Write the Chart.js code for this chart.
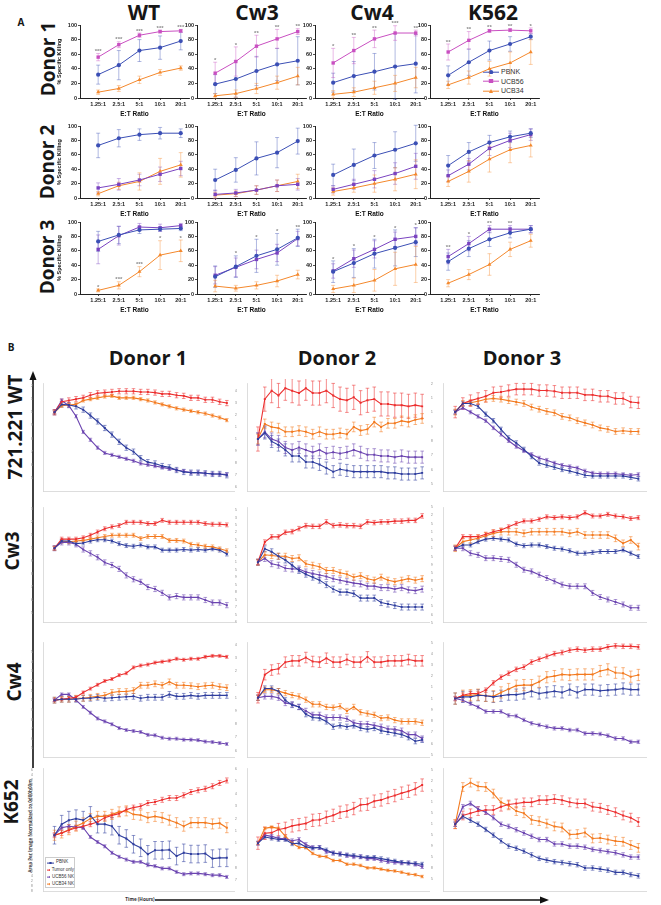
<!DOCTYPE html>
<html>
<head>
<meta charset="utf-8">
<script src="https://cdn.jsdelivr.net/npm/chart.js@4.4.0/dist/chart.umd.min.js"></script>
<style>
body{margin:0;background:#fff;width:661px;height:905px;position:relative;overflow:hidden;font-family:'Open Sans',sans-serif}
canvas.c{position:absolute}
.t{position:absolute;font-weight:700;color:#161616;white-space:nowrap;line-height:1}
.ctr{transform:translate(-50%,-50%)}
.rot{transform:translate(-50%,-50%) rotate(-90deg)}
.lg{position:absolute;font-family:'Liberation Sans',Arial,sans-serif;color:#333;white-space:nowrap;line-height:1}
.lg div{display:flex;align-items:center}
</style>
</head>
<body>

<div class="t ctr" style="left:21px;top:22px;font-size:10px">A</div>
<div class="t ctr" style="left:144px;top:12px;font-size:21px">WT</div>
<div class="t ctr" style="left:257px;top:12px;font-size:21px">Cw3</div>
<div class="t ctr" style="left:372px;top:12px;font-size:21px">Cw4</div>
<div class="t ctr" style="left:493px;top:12px;font-size:21px">K562</div>
<div class="t rot" style="left:48px;top:59px;font-size:19px">Donor 1</div>
<div class="t rot" style="left:47px;top:162px;font-size:19px">Donor 2</div>
<div class="t rot" style="left:47px;top:257px;font-size:19px">Donor 3</div>

<div class="t ctr" style="left:11px;top:347px;font-size:10px">B</div>
<div class="t ctr" style="left:148px;top:358px;font-size:20px">Donor 1</div>
<div class="t ctr" style="left:337px;top:358px;font-size:20px">Donor 2</div>
<div class="t ctr" style="left:522px;top:358px;font-size:20px">Donor 3</div>
<div class="t rot" style="left:15px;top:427px;font-size:19px">721.221 WT</div>
<div class="t rot" style="left:12px;top:551px;font-size:19px">Cw3</div>
<div class="t rot" style="left:14px;top:682px;font-size:19px">Cw4</div>
<div class="t rot" style="left:11px;top:802px;font-size:19px">K652</div>
<div class="t rot" style="left:30px;top:826px;font-size:4.6px;color:#444">Area Per Image Normalized to 0d00h00m</div>
<div class="t ctr" style="left:140px;top:899px;font-size:4.6px;color:#333">Time (Hours)</div>

<svg style="position:absolute;left:0;top:0" width="661" height="905">
  <line x1="33" y1="768" x2="33" y2="378" stroke="#111" stroke-width="1.6"/>
  <polygon points="33,371 29.5,380 36.5,380" fill="#111"/>
  <line x1="155" y1="900" x2="542" y2="900" stroke="#111" stroke-width="1.6"/>
  <polygon points="549,900 540,896.5 540,903.5" fill="#111"/>
</svg>

<div class="lg" id="legA" style="left:483px;top:67px;font-size:7px"></div>
<div class="lg" id="legB" style="left:45px;top:857px;width:30px;height:31px;border:0.6px solid #ccc;font-size:4.5px;padding-top:1px;box-sizing:border-box"></div>

<script>
// ---------- panel A : % specific killing ----------
const ratios = ['1.25:1', '2.5:1', '5:1', '10:1', '20:1'];
const ratioPos = [0, 1, 2, 3, 4];
const killTicks = [0, 20, 40, 60, 80, 100];
const seriesA = ['PBNK', 'UCB56', 'UCB34'];

// rows = PBNK, UCB56, UCB34
const killWT1 = [[32, 45, 65, 69, 78], [56, 73, 86, 91, 92], [8, 13, 25, 35, 41]];
const sdWT1 = [[13, 20, 15, 16, 12], [5, 4, 3, 2, 2], [3, 4, 5, 4, 3]];
const starsWT1 = ['***', '***', '***', '***', '***'];
const killCw3_1 = [[19, 26, 37, 46, 51], [34, 50, 71, 81, 91], [3, 6, 13, 21, 30]];
const sdCw3_1 = [[13, 25, 20, 22, 33], [15, 20, 15, 13, 4], [3, 5, 7, 9, 12]];
const starsCw3_1 = ['*', '*', '**', '**', '**'];
const killCw4_1 = [[21, 30, 36, 43, 47], [48, 65, 81, 89, 89], [5, 8, 14, 20, 28]];
const sdCw4_1 = [[13, 20, 25, 45, 40], [20, 18, 12, 10, 4], [5, 6, 9, 11, 14]];
const starsCw4_1 = ['*', '**', '**', '***', '**'];
const killK562_1 = [[31, 49, 65, 74, 84], [63, 79, 92, 93, 92], [18, 28, 40, 48, 63]];
const sdK562_1 = [[13, 18, 13, 10, 4], [11, 12, 2, 2, 4], [5, 9, 10, 15, 17]];
const starsK562_1 = ['**', '**', '**', '**', '*'];

const killWT2 = [[73, 83, 88, 90, 90], [14, 19, 25, 33, 41], [6, 17, 23, 37, 46]];
const sdWT2 = [[17, 12, 8, 8, 6], [7, 8, 8, 10, 10], [3, 5, 12, 18, 17]];
const killCw3_2 = [[25, 39, 55, 63, 79], [5, 7, 11, 17, 19], [4, 6, 11, 17, 23]];
const sdCw3_2 = [[15, 17, 23, 21, 18], [6, 5, 6, 8, 8], [4, 4, 6, 8, 10]];
const killCw4_2 = [[32, 46, 59, 67, 76], [12, 19, 26, 34, 44], [9, 14, 20, 26, 33]];
const sdCw4_2 = [[15, 22, 18, 25, 25], [5, 7, 12, 15, 18], [5, 6, 12, 16, 20]];
const killK562_2 = [[45, 64, 77, 85, 90], [31, 47, 69, 80, 88], [23, 37, 54, 67, 73]];
const sdK562_2 = [[14, 13, 10, 8, 6], [8, 8, 10, 10, 8], [7, 15, 18, 18, 16]];

const killWT3 = [[73, 82, 89, 90, 91], [62, 81, 93, 92, 95], [5, 12, 31, 54, 60]];
const sdWT3 = [[14, 12, 5, 3, 3], [20, 13, 5, 5, 3], [2, 5, 7, 20, 15]];
const starsWT3 = ['*', '***', '***', '*', '*'];
const killCw3_3 = [[24, 38, 53, 62, 78], [26, 37, 48, 57, 77], [11, 8, 12, 18, 27]];
const sdCw3_3 = [[15, 15, 23, 22, 12], [12, 13, 13, 12, 10], [8, 4, 5, 8, 6]];
const starsCw3_3 = ['', '*', '*', '*', '**'];
const killCw4_3 = [[31, 43, 56, 64, 72], [32, 49, 62, 76, 80], [7, 12, 19, 35, 41]];
const sdCw4_3 = [[15, 20, 20, 25, 20], [10, 12, 12, 10, 12], [5, 10, 15, 23, 25]];
const starsCw4_3 = ['*', '*', '*', '*', '*'];
const killK562_3 = [[45, 63, 76, 85, 90], [52, 70, 90, 90, 90], [15, 27, 41, 62, 74]];
const sdK562_3 = [[12, 11, 10, 7, 5], [10, 10, 5, 5, 5], [5, 7, 15, 10, 9]];
const starsK562_3 = ['**', '*', '**', '**', ''];

// ---------- panel B : area per image over time ----------
const hours = [0, 1, 2, 3, 4, 5, 6, 7, 8, 9, 10, 11, 12, 13, 14, 15, 16, 17, 18, 19, 20, 21, 22, 23, 24];
const hourTicks = [0, 2, 4, 6, 8, 10, 12, 14, 16, 18, 20, 22, 24];
const seriesB = ['PBNK', 'Tumor only', 'UCB56 NK', 'UCB34 NK'];

// rows = PBNK, Tumor only, UCB56 NK, UCB34 NK
const areaWT1 = [
  [1, 1.06, 1.055, 1.045, 1.02, 0.975, 0.93, 0.88, 0.83, 0.775, 0.73, 0.70, 0.65, 0.62, 0.61, 0.59, 0.58, 0.56, 0.545, 0.54, 0.54, 0.535, 0.53, 0.53, 0.52],
  [1, 1.08, 1.09, 1.10, 1.11, 1.13, 1.145, 1.15, 1.155, 1.16, 1.16, 1.16, 1.155, 1.155, 1.15, 1.14, 1.14, 1.13, 1.125, 1.11, 1.11, 1.095, 1.095, 1.08, 1.07],
  [1, 1.09, 1.05, 0.97, 0.85, 0.79, 0.73, 0.69, 0.675, 0.66, 0.645, 0.63, 0.61, 0.60, 0.59, 0.58, 0.57, 0.56, 0.55, 0.54, 0.54, 0.535, 0.53, 0.53, 0.525],
  [1, 1.05, 1.055, 1.06, 1.09, 1.10, 1.11, 1.12, 1.125, 1.11, 1.11, 1.11, 1.10, 1.09, 1.075, 1.06, 1.045, 1.03, 1.02, 1.01, 1.0, 0.99, 0.975, 0.96, 0.94]];
const areaWT2 = [
  [1, 1.05, 0.98, 0.95, 0.91, 0.86, 0.86, 0.81, 0.81, 0.79, 0.76, 0.73, 0.75, 0.74, 0.73, 0.73, 0.73, 0.73, 0.73, 0.72, 0.72, 0.71, 0.71, 0.71, 0.72],
  [1, 1.33, 1.4, 1.36, 1.42, 1.4, 1.38, 1.42, 1.38, 1.38, 1.4, 1.36, 1.33, 1.32, 1.345, 1.30, 1.32, 1.33, 1.29, 1.29, 1.28, 1.28, 1.27, 1.28, 1.27],
  [1, 1.06, 1.0, 0.98, 0.93, 0.91, 0.93, 0.91, 0.89, 0.91, 0.88, 0.89, 0.88, 0.89, 0.91, 0.89, 0.87, 0.87, 0.86, 0.86, 0.85, 0.86, 0.85, 0.85, 0.85],
  [1, 1.125, 1.1, 1.09, 1.06, 1.06, 1.07, 1.06, 1.04, 1.06, 1.04, 1.04, 1.05, 1.04, 1.10, 1.07, 1.08, 1.14, 1.10, 1.13, 1.13, 1.15, 1.14, 1.16, 1.17]];
const areaWT3 = [
  [1, 1.06, 1.06, 1.04, 0.985, 0.94, 0.88, 0.82, 0.785, 0.74, 0.69, 0.645, 0.63, 0.615, 0.60, 0.59, 0.575, 0.56, 0.555, 0.555, 0.555, 0.555, 0.555, 0.545, 0.535],
  [1, 1.06, 1.08, 1.095, 1.11, 1.135, 1.14, 1.15, 1.16, 1.16, 1.16, 1.15, 1.15, 1.145, 1.135, 1.135, 1.135, 1.12, 1.12, 1.11, 1.11, 1.095, 1.095, 1.07, 1.065],
  [1, 1.03, 1.0, 0.97, 0.94, 0.89, 0.845, 0.80, 0.76, 0.73, 0.705, 0.68, 0.665, 0.645, 0.63, 0.62, 0.61, 0.59, 0.575, 0.57, 0.57, 0.57, 0.565, 0.56, 0.565],
  [1, 1.06, 1.065, 1.075, 1.09, 1.095, 1.09, 1.08, 1.07, 1.06, 1.035, 1.02, 1.005, 0.995, 0.97, 0.96, 0.94, 0.925, 0.91, 0.89, 0.88, 0.865, 0.87, 0.865, 0.865]];
const areaCw3_1 = [
  [1, 1.055, 1.055, 1.035, 1.04, 1.055, 1.065, 1.065, 1.055, 1.035, 1.02, 1.015, 1.025, 1.01, 1.01, 0.985, 0.985, 0.985, 0.99, 0.985, 0.99, 0.985, 0.995, 0.985, 0.955],
  [1, 1.07, 1.07, 1.07, 1.08, 1.1, 1.125, 1.15, 1.165, 1.175, 1.2, 1.2, 1.2, 1.19, 1.19, 1.215, 1.2, 1.2, 1.2, 1.2, 1.2, 1.19, 1.185, 1.185, 1.18],
  [1, 1.045, 1.045, 1.03, 0.99, 0.96, 0.93, 0.89, 0.87, 0.84, 0.79, 0.76, 0.74, 0.70, 0.685, 0.655, 0.62, 0.63, 0.62, 0.62, 0.62, 0.60, 0.58, 0.58, 0.56],
  [1, 1.055, 1.05, 1.055, 1.06, 1.07, 1.08, 1.09, 1.1, 1.1, 1.1, 1.1, 1.075, 1.09, 1.09, 1.09, 1.06, 1.06, 1.055, 1.03, 1.025, 1.015, 1.01, 0.995, 0.98]];
const areaCw3_2 = [
  [1, 1.09, 1.07, 1.04, 1.015, 0.98, 0.945, 0.92, 0.9, 0.88, 0.85, 0.82, 0.8, 0.8, 0.79, 0.76, 0.76, 0.76, 0.73, 0.72, 0.71, 0.7, 0.7, 0.7, 0.7],
  [1, 1.135, 1.17, 1.17, 1.2, 1.205, 1.225, 1.245, 1.24, 1.24, 1.27, 1.245, 1.25, 1.245, 1.245, 1.24, 1.27, 1.265, 1.27, 1.27, 1.275, 1.275, 1.28, 1.28, 1.31],
  [1, 1.025, 0.99, 0.98, 0.96, 0.955, 0.955, 0.935, 0.925, 0.915, 0.905, 0.89, 0.88, 0.87, 0.86, 0.855, 0.84, 0.84, 0.83, 0.83, 0.82, 0.83, 0.815, 0.81, 0.82],
  [1, 1.05, 1.045, 1.04, 1.04, 1.025, 1.03, 0.99, 0.98, 0.97, 0.945, 0.945, 0.93, 0.92, 0.9, 0.91, 0.89, 0.88, 0.9, 0.88, 0.87, 0.88, 0.89, 0.88, 0.89]];
const areaCw3_3 = [
  [1, 1.02, 1.02, 1.04, 1.055, 1.06, 1.055, 1.05, 1.025, 1.015, 1.02, 1.02, 1.01, 1.0, 0.995, 0.985, 0.97, 0.97, 0.975, 0.98, 0.98, 0.98, 0.99, 0.97, 0.95],
  [1, 1.07, 1.07, 1.07, 1.085, 1.1, 1.11, 1.13, 1.15, 1.165, 1.165, 1.175, 1.19, 1.185, 1.19, 1.185, 1.19, 1.215, 1.195, 1.195, 1.205, 1.195, 1.19, 1.18, 1.185],
  [1, 1.0, 0.97, 0.96, 0.94, 0.94, 0.935, 0.93, 0.9, 0.87, 0.86, 0.84, 0.82, 0.8, 0.78, 0.77, 0.77, 0.77, 0.73, 0.705, 0.69, 0.675, 0.66, 0.64, 0.64],
  [1, 1.04, 1.05, 1.06, 1.075, 1.09, 1.1, 1.1, 1.1, 1.09, 1.1, 1.1, 1.1, 1.1, 1.1, 1.09, 1.1, 1.08, 1.08, 1.08, 1.08, 1.06, 1.03, 1.05, 1.01]];
const areaCw4_1 = [
  [1, 1.01, 1.01, 1.01, 1.02, 1.02, 1.03, 1.02, 1.025, 1.03, 1.035, 1.04, 1.02, 1.03, 1.03, 1.03, 1.06, 1.04, 1.04, 1.05, 1.04, 1.05, 1.05, 1.05, 1.05],
  [1, 1.01, 1.02, 1.03, 1.08, 1.12, 1.16, 1.2, 1.22, 1.26, 1.28, 1.34, 1.36, 1.37, 1.39, 1.4, 1.41, 1.43, 1.42, 1.43, 1.43, 1.45, 1.46, 1.46, 1.45],
  [1, 1.06, 1.06, 1.0, 0.93, 0.87, 0.81, 0.78, 0.75, 0.71, 0.69, 0.68, 0.67, 0.64, 0.635, 0.61, 0.6, 0.6, 0.59, 0.59, 0.585, 0.57, 0.565, 0.555, 0.545],
  [1, 1.01, 1.01, 1.02, 1.02, 1.03, 1.04, 1.05, 1.08, 1.09, 1.09, 1.1, 1.155, 1.155, 1.17, 1.155, 1.19, 1.155, 1.155, 1.15, 1.14, 1.15, 1.155, 1.14, 1.13]];
const areaCw4_2 = [
  [1, 1.07, 1.07, 1.05, 0.98, 0.945, 0.93, 0.875, 0.85, 0.845, 0.82, 0.78, 0.79, 0.78, 0.79, 0.77, 0.76, 0.77, 0.75, 0.74, 0.73, 0.72, 0.7, 0.67, 0.68],
  [1, 1.175, 1.21, 1.22, 1.27, 1.28, 1.28, 1.305, 1.275, 1.27, 1.3, 1.27, 1.27, 1.29, 1.27, 1.27, 1.31, 1.27, 1.27, 1.28, 1.28, 1.28, 1.29, 1.28, 1.28],
  [1, 1.01, 1.01, 1.0, 0.96, 0.95, 0.93, 0.9, 0.87, 0.87, 0.85, 0.85, 0.85, 0.84, 0.81, 0.8, 0.8, 0.79, 0.78, 0.765, 0.76, 0.75, 0.72, 0.72, 0.69],
  [1, 1.06, 1.06, 1.05, 1.035, 1.02, 1.01, 0.985, 0.95, 0.95, 0.93, 0.925, 0.935, 0.9, 0.93, 0.89, 0.88, 0.87, 0.845, 0.85, 0.83, 0.82, 0.82, 0.82, 0.81]];
const areaCw4_3 = [
  [1, 1.015, 1.015, 1.03, 1.025, 1.015, 1.025, 1.035, 1.035, 1.045, 1.065, 1.045, 1.055, 1.065, 1.055, 1.08, 1.055, 1.08, 1.08, 1.07, 1.075, 1.08, 1.09, 1.08, 1.08],
  [1, 1.03, 1.045, 1.045, 1.075, 1.14, 1.19, 1.225, 1.26, 1.28, 1.325, 1.35, 1.375, 1.4, 1.41, 1.43, 1.44, 1.43, 1.44, 1.44, 1.46, 1.47, 1.465, 1.465, 1.46],
  [1, 0.985, 0.955, 0.925, 0.885, 0.885, 0.885, 0.85, 0.845, 0.81, 0.78, 0.765, 0.75, 0.735, 0.735, 0.72, 0.72, 0.69, 0.69, 0.685, 0.67, 0.645, 0.645, 0.615, 0.615],
  [1, 1.025, 1.03, 1.035, 1.025, 1.02, 1.055, 1.085, 1.115, 1.12, 1.12, 1.15, 1.19, 1.2, 1.215, 1.21, 1.215, 1.215, 1.215, 1.245, 1.26, 1.23, 1.225, 1.195, 1.21]];
const areaK652_1 = [
  [1, 1.044, 1.06, 1.066, 1.06, 1.079, 1.044, 1.044, 1.036, 1.0, 0.987, 0.964, 0.95, 0.924, 0.94, 0.94, 0.942, 0.917, 0.93, 0.925, 0.925, 0.927, 0.907, 0.91, 0.91],
  [1, 1.009, 1.02, 1.03, 1.036, 1.044, 1.053, 1.07, 1.079, 1.086, 1.102, 1.11, 1.115, 1.128, 1.132, 1.141, 1.148, 1.148, 1.159, 1.172, 1.179, 1.185, 1.195, 1.208, 1.218],
  [1, 1.03, 1.036, 1.033, 1.03, 0.993, 0.973, 0.956, 0.93, 0.914, 0.903, 0.894, 0.894, 0.881, 0.877, 0.868, 0.868, 0.854, 0.845, 0.848, 0.848, 0.845, 0.841, 0.841, 0.834],
  [1, 1.009, 1.022, 1.036, 1.049, 1.066, 1.075, 1.075, 1.083, 1.093, 1.097, 1.083, 1.08, 1.07, 1.075, 1.07, 1.06, 1.05, 1.036, 1.05, 1.05, 1.05, 1.045, 1.048, 1.03]];
const areaK652_2 = [
  [1, 1.05, 1.04, 1.03, 1.03, 0.995, 1.0, 0.97, 0.96, 0.965, 0.945, 0.92, 0.91, 0.905, 0.9, 0.89, 0.885, 0.885, 0.875, 0.865, 0.855, 0.845, 0.84, 0.835, 0.83],
  [1, 1.08, 1.085, 1.11, 1.12, 1.14, 1.15, 1.16, 1.185, 1.19, 1.21, 1.225, 1.25, 1.26, 1.28, 1.31, 1.315, 1.34, 1.35, 1.37, 1.385, 1.405, 1.42, 1.44, 1.47],
  [1, 1.065, 1.055, 1.04, 1.035, 1.02, 1.03, 0.99, 0.965, 0.965, 0.93, 0.92, 0.915, 0.9, 0.89, 0.89, 0.875, 0.875, 0.86, 0.85, 0.845, 0.84, 0.84, 0.83, 0.81],
  [1, 1.12, 1.13, 1.12, 1.056, 1.0, 0.965, 0.965, 0.917, 0.895, 0.89, 0.86, 0.86, 0.83, 0.83, 0.82, 0.8, 0.8, 0.79, 0.78, 0.775, 0.765, 0.75, 0.745, 0.73]];
const areaK652_3 = [
  [1, 1.036, 1.018, 1.0, 0.976, 0.95, 0.924, 0.9, 0.89, 0.877, 0.86, 0.844, 0.836, 0.829, 0.825, 0.82, 0.815, 0.8, 0.8, 0.795, 0.79, 0.78, 0.78, 0.77, 0.764],
  [1, 1.04, 1.05, 1.06, 1.065, 1.065, 1.08, 1.09, 1.095, 1.1, 1.1, 1.11, 1.11, 1.115, 1.11, 1.1, 1.095, 1.095, 1.08, 1.075, 1.065, 1.055, 1.04, 1.03, 1.01],
  [1, 1.08, 1.095, 1.07, 1.055, 1.03, 1.0, 0.99, 0.975, 0.96, 0.945, 0.93, 0.93, 0.91, 0.91, 0.9, 0.9, 0.895, 0.885, 0.88, 0.875, 0.87, 0.86, 0.85, 0.85],
  [1, 1.17, 1.19, 1.173, 1.17, 1.14, 1.1, 1.086, 1.06, 1.05, 1.02, 1.014, 1.003, 0.99, 0.985, 0.953, 0.955, 0.962, 0.935, 0.937, 0.93, 0.923, 0.92, 0.905, 0.892]];

// error bar half-heights, one per series
const errWT1 = [0.02, 0.02, 0.012, 0.012];
const errWT2 = [0.05, 0.1, 0.05, 0.04];
const errWT3 = [0.015, 0.04, 0.012, 0.02];
const errCw3_1 = [0.015, 0.015, 0.02, 0.015];
const errCw3_2 = [0.02, 0.015, 0.02, 0.02];
const errCw3_3 = [0.012, 0.012, 0.015, 0.02];
const errCw4_1 = [0.03, 0.015, 0.015, 0.03];
const errCw4_2 = [0.02, 0.04, 0.02, 0.02];
const errCw4_3 = [0.05, 0.02, 0.015, 0.05];
const errK652_1 = [0.035, 0.01, 0.006, 0.02];
const errK652_2 = [0.015, 0.05, 0.015, 0.01];
const errK652_3 = [0.01, 0.02, 0.01, 0.02];

// y tick labels and axis ranges of each time-course panel
const ticksWT1 = [0.5, 0.6, 0.7, 0.8, 0.9, 1, 1.1, 1.2], rangeWT1 = [0.40, 1.22];
const ticksWT2 = [0.6, 0.7, 0.8, 0.9, 1, 1.1, 1.2, 1.3, 1.4], rangeWT2 = [0.57, 1.46];
const ticksWT3 = [0.5, 0.6, 0.7, 0.8, 0.9, 1, 1.1, 1.2], rangeWT3 = [0.45, 1.2];
const ticksCw3_1 = [0.5, 0.6, 0.7, 0.8, 0.9, 1, 1.1, 1.2, 1.3], rangeCw3_1 = [0.43, 1.315];
const ticksCw3_2 = [0.6, 0.65, 0.7, 0.75, 0.8, 0.85, 0.9, 0.95, 1, 1.05, 1.1, 1.15, 1.2, 1.25, 1.3, 1.35], rangeCw3_2 = [0.6, 1.367];
const ticksCw3_3 = [0.55, 0.6, 0.65, 0.7, 0.75, 0.8, 0.85, 0.9, 0.95, 1, 1.05, 1.1, 1.15, 1.2, 1.25], rangeCw3_3 = [0.554, 1.247];
const ticksCw4_1 = [0.5, 0.6, 0.7, 0.8, 0.9, 1, 1.1, 1.2, 1.3, 1.4, 1.5], rangeCw4_1 = [0.41, 1.6];
const ticksCw4_2 = [0.6, 0.7, 0.8, 0.9, 1, 1.1, 1.2, 1.3, 1.4], rangeCw4_2 = [0.55, 1.42];
const ticksCw4_3 = [0.5, 0.6, 0.7, 0.8, 0.9, 1, 1.1, 1.2, 1.3, 1.4, 1.5], rangeCw4_3 = [0.48, 1.5];
const ticksK652_1 = [0.78, 0.8, 0.82, 0.84, 0.86, 0.88, 0.9, 0.92, 0.94, 0.96, 0.98, 1, 1.02, 1.04, 1.06, 1.08, 1.1, 1.12, 1.14, 1.16, 1.18, 1.2, 1.22, 1.24, 1.26], rangeK652_1 = [0.778, 1.266];
const ticksK652_2 = [0.7, 0.8, 0.9, 1, 1.1, 1.2, 1.3, 1.4, 1.5, 1.6], rangeK652_2 = [0.613, 1.605];
const ticksK652_3 = [0.75, 0.8, 0.85, 0.9, 0.95, 1, 1.05, 1.1, 1.15, 1.2, 1.25], rangeK652_3 = [0.695, 1.255];

// colours
const colA = ['#3b4fb5', '#c94fc1', '#f4882c'];
const purpleA = '#7a43c0';
const colB = ['#2f3e9e', '#ec2f2f', '#6b44b0', '#f37a1f'];

function fade(hex, a) {
  const n = parseInt(hex.slice(1), 16);
  return 'rgba(' + (n >> 16) + ',' + ((n >> 8) & 255) + ',' + (n & 255) + ',' + a + ')';
}

function place(L, T, W, H, yW, xH, pt, pr) {
  const cv = document.createElement('canvas');
  cv.className = 'c';
  cv.width = yW + W + pr;
  cv.height = pt + H + xH;
  cv.style.left = (L - yW) + 'px';
  cv.style.top = (T - pt) + 'px';
  cv.style.width = cv.width + 'px';
  cv.style.height = cv.height + 'px';
  document.body.appendChild(cv);
  return cv;
}

// error bars, drawn under the lines
const errorBars = {
  id: 'errorBars',
  beforeDatasetsDraw(chart) {
    const ctx = chart.ctx, ys = chart.scales.y;
    chart.data.datasets.forEach((ds, i) => {
      const meta = chart.getDatasetMeta(i);
      ctx.save();
      ctx.strokeStyle = ds.errColor;
      ctx.lineWidth = ds.errWidth;
      meta.data.forEach((pt, j) => {
        const e = Array.isArray(ds.err) ? ds.err[j] : ds.err;
        if (!e) return;
        const v = ds.vals[j];
        const y1 = ys.getPixelForValue(v + e), y2 = ys.getPixelForValue(v - e);
        const c = ds.cap;
        ctx.beginPath();
        ctx.moveTo(pt.x, y1); ctx.lineTo(pt.x, y2);
        ctx.moveTo(pt.x - c, y1); ctx.lineTo(pt.x + c, y1);
        ctx.moveTo(pt.x - c, y2); ctx.lineTo(pt.x + c, y2);
        ctx.stroke();
      });
      ctx.restore();
    });
  }
};

function starMarks(marks, on) {
  return {
    id: 'stars',
    afterDatasetsDraw(chart) {
      if (!marks) return;
      const ctx = chart.ctx, ys = chart.scales.y, ds = chart.data.datasets;
      ctx.save();
      ctx.fillStyle = '#8a8a8a';
      ctx.font = 'bold 6px "Liberation Sans"';
      ctx.textAlign = 'center';
      ctx.textBaseline = 'bottom';
      marks.forEach((m, j) => {
        if (!m) return;
        let top = 0;
        ds.forEach((d, i) => {
          if (on < 0 || on === i) top = Math.max(top, d.vals[j] + d.err[j]);
        });
        const x = chart.getDatasetMeta(0).data[j].x;
        ctx.fillText(m, x, ys.getPixelForValue(top) + 1);
      });
      ctx.restore();
    }
  };
}

const fontA = { family: 'Liberation Sans', weight: 'bold', size: 5.5 };

function chartA(L, T, H, yW, kill, sd, marks, on, midColor, yTitle) {
  const W = 109, pt = 6, pr = 4, xH = 20;
  const cv = place(L, T, W, H, yW, xH, pt, pr);
  const cols = [colA[0], midColor, colA[2]];
  const styles = [['circle', 2.1], ['rect', 2.4], ['triangle', 2.3]];
  new Chart(cv, {
    type: 'line',
    data: {
      datasets: seriesA.map((name, i) => ({
        label: name,
        data: kill[i].map((v, j) => ({ x: ratioPos[j], y: v })),
        vals: kill[i], err: sd[i], errColor: fade(cols[i], 0.45), errWidth: 0.9, cap: 2,
        borderColor: cols[i], backgroundColor: cols[i], borderWidth: 1,
        pointStyle: styles[i][0], pointRadius: styles[i][1], pointBorderWidth: 0
      }))
    },
    options: {
      responsive: false, animation: false, devicePixelRatio: 1,
      layout: { padding: { top: pt, right: pr, left: 0, bottom: 0 } },
      plugins: { legend: { display: false }, tooltip: { enabled: false } },
      scales: {
        x: {
          type: 'linear', min: -0.88, max: 4.4,
          afterBuildTicks: s => { s.ticks = ratioPos.map(v => ({ value: v })); },
          afterFit: s => { s.height = xH; },
          grid: { drawOnChartArea: false, tickLength: 2, color: '#222', lineWidth: 0.8 },
          border: { color: '#222', width: 1 },
          ticks: { callback: v => ratios[v], font: fontA, color: '#222', padding: 1, maxRotation: 0, autoSkip: false },
          title: { display: true, text: 'E:T Ratio', font: { family: 'Liberation Sans', weight: 'bold', size: 6.5 }, color: '#111', padding: { top: 1, bottom: 0 } }
        },
        y: {
          min: 0, max: 100,
          afterBuildTicks: s => { s.ticks = killTicks.map(v => ({ value: v })); },
          afterFit: s => { s.width = yW; },
          grid: { drawOnChartArea: false, tickLength: 2, color: '#222', lineWidth: 0.8 },
          border: { color: '#222', width: 1 },
          ticks: { font: fontA, color: '#222', padding: 1 },
          title: { display: yTitle, text: '% Specific Killing', font: { family: 'Liberation Sans', weight: 'bold', size: 5.5 }, color: '#111', padding: 0 }
        }
      }
    },
    plugins: [errorBars, starMarks(marks, on)]
  });
}

const fontB = { family: 'Liberation Sans', size: 4 };

function chartB(L, T, W, H, area, err, ticks, range) {
  const yW = 12, xH = 9, pt = 4, pr = 3;
  const cv = place(L, T, W, H, yW, xH, pt, pr);
  new Chart(cv, {
    type: 'line',
    data: {
      datasets: seriesB.map((name, i) => ({
        label: name,
        data: area[i].map((v, j) => ({ x: hours[j], y: v })),
        vals: area[i], err: err[i], errColor: fade(colB[i], 0.6), errWidth: 0.9, cap: 1.8,
        borderColor: colB[i], backgroundColor: colB[i], borderWidth: 1.1,
        pointStyle: 'rect', pointRadius: 1.4, pointBorderWidth: 0
      }))
    },
    options: {
      responsive: false, animation: false, devicePixelRatio: 1,
      layout: { padding: { top: pt, right: pr, left: 0, bottom: 0 } },
      plugins: { legend: { display: false }, tooltip: { enabled: false } },
      scales: {
        x: {
          type: 'linear', min: -1.6, max: 25,
          afterBuildTicks: s => { s.ticks = hourTicks.map(v => ({ value: v })); },
          afterFit: s => { s.height = xH; },
          grid: { display: false },
          border: { color: '#d4d4d4', width: 0.8 },
          ticks: { font: fontB, color: '#999', padding: 2, maxRotation: 0, autoSkip: false }
        },
        y: {
          min: range[0], max: range[1],
          afterBuildTicks: s => { s.ticks = ticks.map(v => ({ value: v })); },
          afterFit: s => { s.width = yW; },
          grid: { display: false },
          border: { color: '#d4d4d4', width: 0.8 },
          ticks: { font: fontB, color: '#999', padding: 2, autoSkip: false, callback: v => String(Math.round(v * 100) / 100) }
        }
      }
    },
    plugins: [errorBars]
  });
}

// panel A grid
const colL = [80, 197, 315, 430];
const rowT = [25, 126, 222];
const rowH = [73, 72, 72];
chartA(colL[0], rowT[0], rowH[0], 24, killWT1, sdWT1, starsWT1, 1, colA[1], true);
chartA(colL[1], rowT[0], rowH[0], 17, killCw3_1, sdCw3_1, starsCw3_1, 1, colA[1], false);
chartA(colL[2], rowT[0], rowH[0], 17, killCw4_1, sdCw4_1, starsCw4_1, 1, colA[1], false);
chartA(colL[3], rowT[0], rowH[0], 17, killK562_1, sdK562_1, starsK562_1, 1, colA[1], false);
chartA(colL[0], rowT[1], rowH[1], 24, killWT2, sdWT2, null, -1, purpleA, true);
chartA(colL[1], rowT[1], rowH[1], 17, killCw3_2, sdCw3_2, null, -1, purpleA, false);
chartA(colL[2], rowT[1], rowH[1], 17, killCw4_2, sdCw4_2, null, -1, purpleA, false);
chartA(colL[3], rowT[1], rowH[1], 17, killK562_2, sdK562_2, null, -1, purpleA, false);
chartA(colL[0], rowT[2], rowH[2], 24, killWT3, sdWT3, starsWT3, 2, purpleA, true);
chartA(colL[1], rowT[2], rowH[2], 17, killCw3_3, sdCw3_3, starsCw3_3, -1, purpleA, false);
chartA(colL[2], rowT[2], rowH[2], 17, killCw4_3, sdCw4_3, starsCw4_3, -1, purpleA, false);
chartA(colL[3], rowT[2], rowH[2], 17, killK562_3, sdK562_3, starsK562_3, -1, purpleA, false);

// panel B grid
const bL = [43, 247, 443];
const bW = [192, 183, 204];
const bT = [383, 507, 642, 768];
const bH = [108, 115, 115, 123];
chartB(bL[0], bT[0], bW[0], bH[0], areaWT1, errWT1, ticksWT1, rangeWT1);
chartB(bL[1], bT[0], bW[1], bH[0], areaWT2, errWT2, ticksWT2, rangeWT2);
chartB(bL[2], bT[0], bW[2], bH[0], areaWT3, errWT3, ticksWT3, rangeWT3);
chartB(bL[0], bT[1], bW[0], bH[1], areaCw3_1, errCw3_1, ticksCw3_1, rangeCw3_1);
chartB(bL[1], bT[1], bW[1], bH[1], areaCw3_2, errCw3_2, ticksCw3_2, rangeCw3_2);
chartB(bL[2], bT[1], bW[2], bH[1], areaCw3_3, errCw3_3, ticksCw3_3, rangeCw3_3);
chartB(bL[0], bT[2], bW[0], bH[2], areaCw4_1, errCw4_1, ticksCw4_1, rangeCw4_1);
chartB(bL[1], bT[2], bW[1], bH[2], areaCw4_2, errCw4_2, ticksCw4_2, rangeCw4_2);
chartB(bL[2], bT[2], bW[2], bH[2], areaCw4_3, errCw4_3, ticksCw4_3, rangeCw4_3);
chartB(bL[0], bT[3], bW[0], bH[3], areaK652_1, errK652_1, ticksK652_1, rangeK652_1);
chartB(bL[1], bT[3], bW[1], bH[3], areaK652_2, errK652_2, ticksK652_2, rangeK652_2);
chartB(bL[2], bT[3], bW[2], bH[3], areaK652_3, errK652_3, ticksK652_3, rangeK652_3);

// legends
function swatch(color, shape, w, r) {
  const m = shape === 'circle' ? '<circle cx="' + w / 2 + '" cy="' + r + '" r="' + r + '" fill="' + color + '"/>'
    : shape === 'triangle' ? '<polygon points="' + (w / 2) + ',0 ' + (w / 2 - r) + ',' + 2 * r + ' ' + (w / 2 + r) + ',' + 2 * r + '" fill="' + color + '"/>'
    : '<rect x="' + (w / 2 - r) + '" y="0" width="' + 2 * r + '" height="' + 2 * r + '" fill="' + color + '"/>';
  return '<svg width="' + w + '" height="' + 2 * r + '" style="margin-right:2px"><line x1="0" y1="' + r + '" x2="' + w + '" y2="' + r + '" stroke="' + color + '" stroke-width="1"/>' + m + '</svg>';
}
const shapesA = ['circle', 'rect', 'triangle'];
document.getElementById('legA').innerHTML = seriesA.map((n, i) =>
  '<div style="height:9.5px">' + swatch(colA[i], shapesA[i], 16, 2.2) + n + '</div>').join('');
document.getElementById('legB').innerHTML = seriesB.map((n, i) =>
  '<div style="height:7.3px;padding-left:1px">' + swatch(colB[i], 'rect', 7, 1.1) + n + '</div>').join('');
</script>
</body>
</html>
